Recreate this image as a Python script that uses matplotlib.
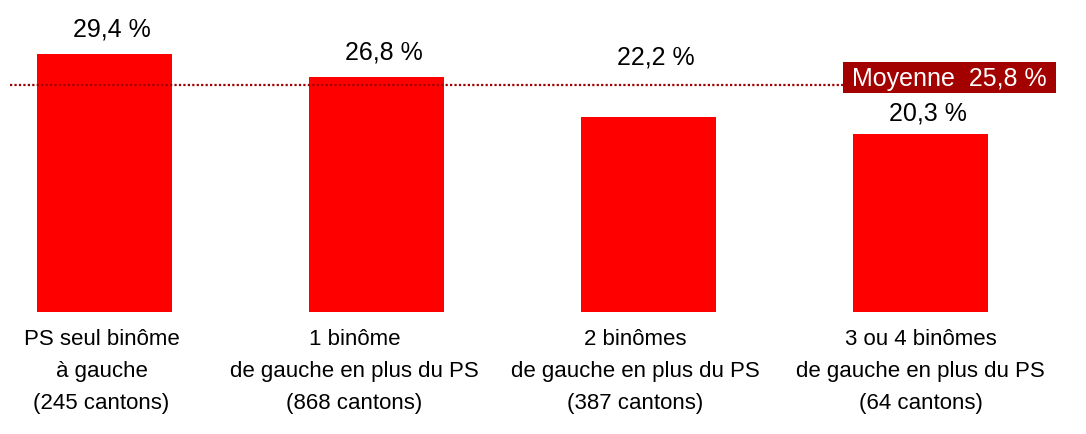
import matplotlib
matplotlib.use("Agg")
import matplotlib.pyplot as plt
from matplotlib.patches import Rectangle

categories = [
    "PS seul binôme\nà gauche\n(245 cantons)",
    "1 binôme\nde gauche en plus du PS\n(868 cantons)",
    "2 binômes\nde gauche en plus du PS\n(387 cantons)",
    "3 ou 4 binômes\nde gauche en plus du PS\n(64 cantons)",
]
values = [29.4, 26.8, 22.2, 20.3]
value_labels = ["29,4 %", "26,8 %", "22,2 %", "20,3 %"]
mean_value = 25.8
mean_label = "Moyenne  25,8 %"

font = "Liberation Sans"

W, H = 1086, 435
fig = plt.figure(figsize=(W / 100, H / 100), dpi=100)
ax = fig.add_axes([0, 0, 1, 1])

# pixel layout mapping: bar centres at 104.5 + 272*i, baseline at y=313 px
px_per_unit = 8.78
ax.set_xlim(-104.5 / 272, (W - 104.5) / 272)
ax.set_ylim(-(H - 313) / px_per_unit, 313 / px_per_unit)
ax.axis("off")

x = list(range(len(values)))
ax.bar(x, values, width=0.496, color="#FF0000", zorder=2)

# mean dotted line
x_left = -104.5 / 272 + 10 / 272
x_right = (843 - 104.5) / 272
ax.plot([x_left, x_right], [mean_value, mean_value], linestyle=(0, (1, 1)),
        color="#A00000", linewidth=1.6, zorder=3)

# mean box label
bx0, bx1, by0, by1 = 843 / W, 1056 / W, 1 - 94 / H, 1 - 63 / H
ax.add_patch(Rectangle((bx0, by0), bx1 - bx0, by1 - by0, transform=ax.transAxes,
                       facecolor="#A30000", edgecolor="none", zorder=4))
ax.text((bx0 + bx1) / 2, (by0 + by1) / 2, mean_label,
        transform=ax.transAxes, ha="center", va="center", color="white",
        fontsize=18, family=font, zorder=5)

# value labels (offset above bar top, in pixels)
label_dy = [25, 25, 61, 21]
for i, (v, lab) in enumerate(zip(values, value_labels)):
    ax.annotate(lab, xy=(i, v), xytext=(7, label_dy[i]), textcoords="offset pixels",
                ha="center", va="center", fontsize=18, family=font, color="black")

# category labels
cat_dx = [-3, -22, -13, 0]
for i, cat in enumerate(categories):
    ax.annotate(cat, xy=(i, 0), xytext=(cat_dx[i], -16), textcoords="offset pixels",
                ha="center", va="top", fontsize=16, family=font, color="black",
                linespacing=1.68)

fig.savefig("out.png", dpi=100)
